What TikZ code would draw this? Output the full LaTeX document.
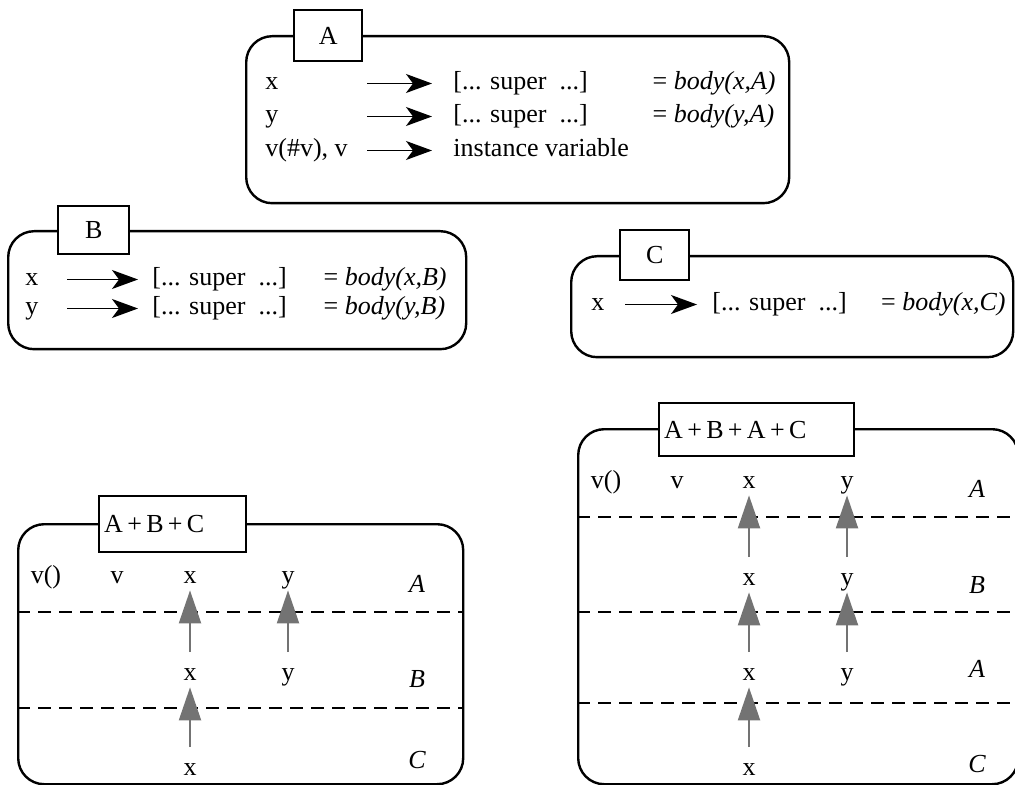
\documentclass[tikz,border=0pt]{standalone}
\usepackage{fontspec}
\setmainfont{Liberation Serif}
\usetikzlibrary{positioning,arrows.meta}

\begin{document}
\begin{tikzpicture}[
  x=0.5pt, y=-0.5pt,
  font=\fontsize{13}{15}\selectfont,
  frm/.style={draw, line width=1.2pt, rounded corners=13pt, anchor=north west, inner sep=0pt},
  tab/.style={draw, line width=1.2pt, fill=white, anchor=north west, inner sep=0pt},
  wtab/.style={tab, text width=#1, inner xsep=2.5pt, align=left},
  txt/.style={anchor=base west, inner sep=0pt},
  res/.style={anchor=base east, inner sep=0pt},
  cell/.style={anchor=base, inner sep=0pt, text height=5.8pt, text depth=0pt},
  lbl/.style={anchor=base, inner sep=0pt, font=\fontsize{13}{15}\selectfont\itshape},
  fl/.style={-{Stealth[length=13pt, width=9.5pt, inset=3.5pt]}, line width=0.8pt},
  sup/.style={-{Triangle[length=16.5pt, width=11pt]}, line width=1.1pt, black!55,
              shorten <=8pt, shorten >=3.5pt},
  lay/.style={line width=1.2pt, dash pattern=on 6.5pt off 4pt}
]
\useasboundingbox (0,0) rectangle (1015,785);
\clip (0,0) rectangle (1015,785);

% class A
\node[frm, minimum width=271.5pt, minimum height=83.5pt] (fA) at (245,35) {};
\node[tab, minimum width=34pt, minimum height=25.5pt] (tA) at (293,9) {A};
\foreach \n/\k/\v/\yy in {1/x/{[... super~ ...]}/90, 2/y/{[... super~ ...]}/123,
                          3/{v(\#v), v}/instance variable/157} {
  \node[txt] (Ak\n) at (265,\yy) {\k};
  \node[txt] (Av\n) at (453,\yy) {\v};
  \coordinate (Aa\n) at (367,\yy-6.5);
  \draw[fl, shorten >=10.5pt] (Aa\n) -- (Av\n.west |- Aa\n);
}
\node[res] (Ar1) at (776,90) {= \textit{body(x,A)}};
\node[txt] (Ar2) at (Ar1.base west |- 0,123) {= \textit{body(y,A)}};

% class B
\node[frm, minimum width=229pt, minimum height=59pt] (fB) at (7,230) {};
\node[tab, minimum width=35.5pt, minimum height=24pt] (tB) at (57,205) {B};
\foreach \n/\k/\yy in {1/x/286, 2/y/315} {
  \node[txt] (Bk\n) at (25,\yy) {\k};
  \node[txt] (Bv\n) at (152,\yy) {[... super~ ...]};
  \coordinate (Ba\n) at (67,\yy-6.5);
  \draw[fl, shorten >=7pt] (Ba\n) -- (Bv\n.west |- Ba\n);
}
\node[res] (Br1) at (447,286) {= \textit{body(x,B)}};
\node[txt] (Br2) at (Br1.base west |- 0,315) {= \textit{body(y,B)}};

% class C
\node[frm, minimum width=221pt, minimum height=50.5pt] (fC) at (570,255) {};
\node[tab, minimum width=34.5pt, minimum height=25pt] (tC) at (619,229) {C};
\node[txt] (Ck1) at (591,311) {x};
\node[txt] (Cv1) at (712,311) {[... super~ ...]};
\coordinate (Ca1) at (625,304.5);
\draw[fl, shorten >=7.5pt] (Ca1) -- (Cv1.west |- Ca1);
\node[res] (Cr1) at (1006,311) {= \textit{body(x,C)}};

% A + B + C
\node[frm, minimum width=222.5pt, minimum height=130pt] (fL) at (17,523) {};
\node[wtab=68.5pt, minimum height=28pt] (tL) at (98,495) {A\,+\,B\,+\,C};
\node[cell] (Lv0) at (46,583) {v()};
\node[cell] (Lv) at (117,583) {v};
\foreach \r/\yy in {1/583, 2/680, 3/775} \node[cell] (Lx\r) at (190,\yy) {x};
\foreach \r/\yy in {1/583, 2/680} \node[cell] (Ly\r) at (288,\yy) {y};
\foreach \r/\yy/\t in {1/592/A, 2/687/B, 3/768/C} \node[lbl] (Ll\r) at (417,\yy) {\t};
\foreach \yy in {612, 708} \draw[lay] (fL.west |- 0,\yy) -- (fL.east |- 0,\yy);
\foreach \a/\b in {Lx2/Lx1, Ly2/Ly1, Lx3/Lx2} \draw[sup] (\a) -- (\b);

% A + B + A + C
\node[frm, minimum width=220pt, minimum height=177.5pt] (fR) at (577,428) {};
\node[wtab=92.5pt, minimum height=26.5pt] (tR) at (658,402) {A\,+\,B\,+\,A\,+\,C};
\node[cell] (Rv0) at (606,488) {v()};
\node[cell] (Rv) at (677,488) {v};
\foreach \r/\yy in {1/488, 2/585, 3/680, 4/775} \node[cell] (Rx\r) at (749,\yy) {x};
\foreach \r/\yy in {1/488, 2/585, 3/680} \node[cell] (Ry\r) at (847,\yy) {y};
\foreach \r/\yy/\t in {1/497/A, 2/593/B, 3/677/A, 4/772/C} \node[lbl] (Rl\r) at (977,\yy) {\t};
\foreach \yy in {517, 612, 703} \draw[lay] (fR.west |- 0,\yy) -- (fR.east |- 0,\yy);
\foreach \a/\b in {Rx2/Rx1, Ry2/Ry1, Rx3/Rx2, Ry3/Ry2, Rx4/Rx3} \draw[sup] (\a) -- (\b);
\end{tikzpicture}
\end{document}
